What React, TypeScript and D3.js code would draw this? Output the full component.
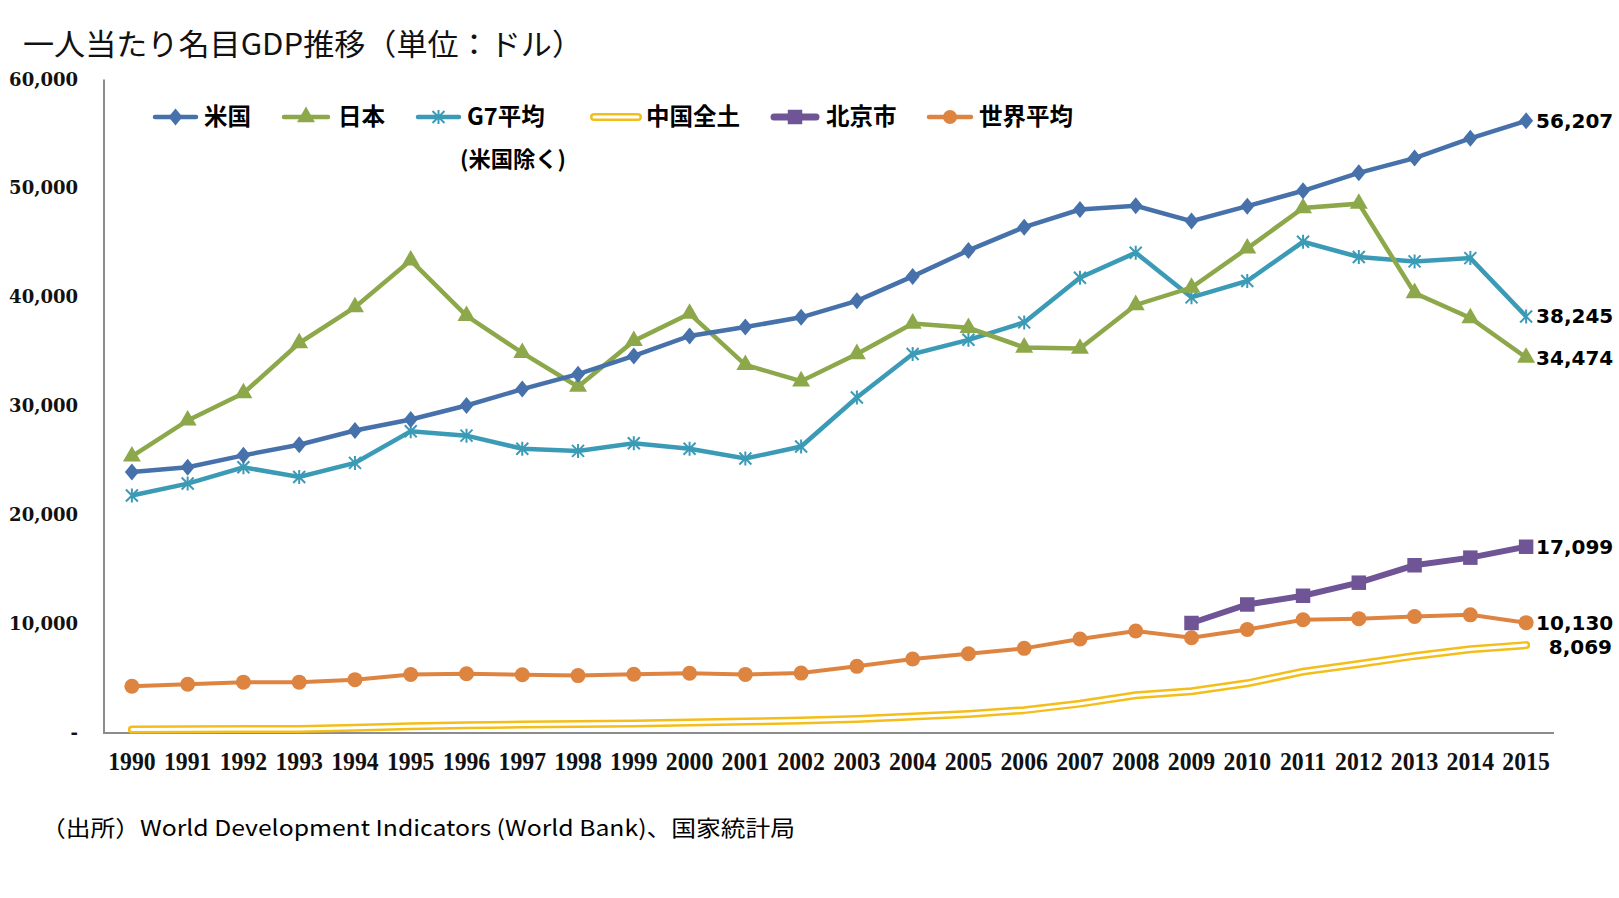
import React from "react";
import * as d3 from "d3";

const years = [1990,1991,1992,1993,1994,1995,1996,1997,1998,1999,2000,2001,2002,2003,2004,2005,2006,2007,2008,2009,2010,2011,2012,2013,2014,2015];

const usa = [23954,24405,25493,26465,27777,28782,30068,31573,32949,34621,36450,37274,38166,39677,41922,44308,46437,48062,48401,47002,48374,49782,51433,52782,54598,56207];
const japan = [25400,28700,31200,35800,39100,43400,38300,34900,31800,36000,38500,33800,32300,34800,37600,37200,35400,35300,39300,40900,44500,48200,48600,40400,38100,34474];
const g7 = [21800,22900,24400,23500,24800,27700,27300,26100,25900,26600,26100,25200,26300,30800,34800,36100,37700,41800,44100,40000,41500,45100,43700,43300,43600,38245];
const china = [318,333,366,377,473,610,709,782,829,873,959,1053,1149,1289,1509,1753,2099,2695,3471,3838,4561,5634,6338,7078,7684,8069];
const beijing = [null,null,null,null,null,null,null,null,null,null,null,null,null,null,null,null,null,null,null,10100,11800,12600,13800,15400,16100,17099];
const world = [4290,4480,4670,4670,4900,5370,5440,5350,5270,5390,5490,5380,5500,6120,6800,7270,7770,8630,9370,8740,9500,10400,10500,10700,10850,10130];

const yTicks = [0,10000,20000,30000,40000,50000,60000];
const endLabels = ["56,207","34,474","38,245","8,069","17,099","10,130"];

const legendNames = ["米国","日本","G7平均","中国全土","北京市","世界平均"];
const titleText = "一人当たり名目GDP推移（単位：ドル）";
const sourceText = "（出所）World Development Indicators (World Bank)、国家統計局";

const W = 1619, H = 898;
const C = { us: "#4671AA", jp: "#8CA84A", g7: "#3B9BB6", cn: "#F4BE1A", bj: "#6F5596", wd: "#DD8441" };

export default function App() {
  const x = d3.scalePoint<number>().domain(years).range([104, 1554]).padding(0.5);
  const y = d3.scaleLinear().domain([0, 60000]).range([733, 79.5]);
  const line = d3.line<number | null>()
    .defined((d) => d != null)
    .x((_, i) => x(years[i]) as number)
    .y((d) => y(d as number));

  const diamond = "M0,-8.5L7,0L0,8.5L-7,0Z";
  const triangle = d3.symbol().type(d3.symbolTriangle).size(140)()!;
  const square = d3.symbol().type(d3.symbolSquare).size(210)()!;
  const star = "M0,-7L0,7M-6,-6L6,6M-6,6L6,-6";

  const pts = (arr: (number | null)[]) =>
    arr.map((v, i) => ({ v, i })).filter((p) => p.v != null) as { v: number; i: number }[];

  const lastX = x(2015) as number;
  const fontNum = "'DejaVu Sans', Verdana, sans-serif";
  const jp = "'Noto Sans CJK JP', sans-serif";

  const legendY = 117;
  const legendItems = [
    { name: legendNames[0], x1: 155, x2: 196, tx: 204, color: C.us, kind: "diamond" },
    { name: legendNames[1], x1: 284, x2: 328, tx: 338, color: C.jp, kind: "triangle" },
    { name: legendNames[2], x1: 418, x2: 459, tx: 467, color: C.g7, kind: "star" },
    { name: legendNames[3], x1: 594, x2: 638, tx: 646, color: C.cn, kind: "double" },
    { name: legendNames[4], x1: 774, x2: 816, tx: 826, color: C.bj, kind: "square" },
    { name: legendNames[5], x1: 929, x2: 971, tx: 979, color: C.wd, kind: "circle" },
  ];

  return (
    <svg width={W} height={H} style={{ position: "absolute", left: 0, top: 0, background: "#fff" }}>
      <text x={23} y={55} fontFamily={jp} fontSize={30} fill="#111" textLength={560} lengthAdjust="spacingAndGlyphs">{titleText}</text>

      {/* axes */}
      <line x1={104} x2={104} y1={79.5} y2={733} stroke="#8c8c8c" strokeWidth={2} />
      <line x1={103} x2={1554} y1={733} y2={733} stroke="#8c8c8c" strokeWidth={2} />

      {yTicks.map((t) => (
        <text key={t} x={78} y={y(t) + 6} textAnchor="end" fontFamily="'DejaVu Serif', serif" fontWeight="bold" fontSize={18} fill="#111">
          {t === 0 ? "-" : d3.format(",")(t)}
        </text>
      ))}
      {years.map((yr) => (
        <text key={yr} transform={`translate(${x(yr)},770) scale(0.95,1)`} textAnchor="middle" fontFamily="'Liberation Serif', serif" fontWeight="bold" fontSize={25} fill="#111">
          {yr}
        </text>
      ))}

      {/* China double line */}
      <path d={line(china)!} fill="none" stroke={C.cn} strokeWidth={8} strokeLinecap="round" strokeLinejoin="round" />
      <path d={line(china)!} fill="none" stroke="#fff" strokeWidth={3} strokeLinecap="round" strokeLinejoin="round" />

      {/* World */}
      <path d={line(world)!} fill="none" stroke={C.wd} strokeWidth={4} />
      {pts(world).map((p) => (
        <circle key={p.i} cx={x(years[p.i])} cy={y(p.v)} r={7.5} fill={C.wd} />
      ))}

      {/* Beijing */}
      <path d={line(beijing)!} fill="none" stroke={C.bj} strokeWidth={6} />
      {pts(beijing).map((p) => (
        <path key={p.i} d={square} transform={`translate(${x(years[p.i])},${y(p.v)})`} fill={C.bj} />
      ))}

      {/* G7 */}
      <path d={line(g7)!} fill="none" stroke={C.g7} strokeWidth={4.5} />
      {pts(g7).map((p) => (
        <path key={p.i} d={star} transform={`translate(${x(years[p.i])},${y(p.v)})`} stroke={C.g7} strokeWidth={2} fill="none" />
      ))}

      {/* Japan */}
      <path d={line(japan)!} fill="none" stroke={C.jp} strokeWidth={4.5} />
      {pts(japan).map((p) => (
        <path key={p.i} d={triangle} transform={`translate(${x(years[p.i])},${y(p.v)})`} fill={C.jp} />
      ))}

      {/* USA */}
      <path d={line(usa)!} fill="none" stroke={C.us} strokeWidth={4.5} />
      {pts(usa).map((p) => (
        <path key={p.i} d={diamond} transform={`translate(${x(years[p.i])},${y(p.v)})`} fill={C.us} />
      ))}

      {/* end labels */}
      <text x={lastX + 10} y={y(56207) + 7} fontFamily={fontNum} fontWeight="bold" fontSize={20} fill="#000">{endLabels[0]}</text>
      <text x={lastX + 10} y={y(38245) + 7} fontFamily={fontNum} fontWeight="bold" fontSize={20} fill="#000">{endLabels[2]}</text>
      <text x={lastX + 10} y={y(34474) + 7} fontFamily={fontNum} fontWeight="bold" fontSize={20} fill="#000">{endLabels[1]}</text>
      <text x={lastX + 10} y={y(17099) + 7} fontFamily={fontNum} fontWeight="bold" fontSize={20} fill="#000">{endLabels[4]}</text>
      <text x={lastX + 10} y={y(10130) + 7} fontFamily={fontNum} fontWeight="bold" fontSize={20} fill="#000">{endLabels[5]}</text>
      <text x={1612} y={y(8069) + 9} textAnchor="end" fontFamily={fontNum} fontWeight="bold" fontSize={20} fill="#000">{endLabels[3]}</text>

      {/* legend */}
      {legendItems.map((it) => {
        const cx = (it.x1 + it.x2) / 2;
        return (
          <g key={it.name}>
            {it.kind === "double" ? (
              <>
                <line x1={it.x1} x2={it.x2} y1={legendY} y2={legendY} stroke={it.color} strokeWidth={8} strokeLinecap="round" />
                <line x1={it.x1} x2={it.x2} y1={legendY} y2={legendY} stroke="#fff" strokeWidth={3} strokeLinecap="round" />
              </>
            ) : (
              <line x1={it.x1} x2={it.x2} y1={legendY} y2={legendY} stroke={it.color} strokeWidth={it.kind === "square" ? 7 : 4.5} strokeLinecap="round" />
            )}
            {it.kind === "diamond" && <path d={diamond} transform={`translate(${cx},${legendY})`} fill={it.color} />}
            {it.kind === "triangle" && <path d={triangle} transform={`translate(${cx},${legendY})`} fill={it.color} />}
            {it.kind === "star" && <path d={star} transform={`translate(${cx},${legendY})`} stroke={it.color} strokeWidth={2} fill="none" />}
            {it.kind === "square" && <path d={square} transform={`translate(${cx},${legendY})`} fill={it.color} />}
            {it.kind === "circle" && <circle cx={cx} cy={legendY} r={7} fill={it.color} />}
            <text x={it.tx} y={legendY + 8} fontFamily={jp} fontWeight="bold" fontSize={23.5} fill="#000">{it.name}</text>
          </g>
        );
      })}
      <text x={460} y={167} fontFamily={jp} fontWeight="bold" fontSize={22} fill="#000" textLength={106} lengthAdjust="spacingAndGlyphs">(米国除く)</text>

      <text x={41} y={836} fontFamily={jp} fontSize={22} fill="#000" textLength={754} lengthAdjust="spacingAndGlyphs">{sourceText}</text>
    </svg>
  );
}
